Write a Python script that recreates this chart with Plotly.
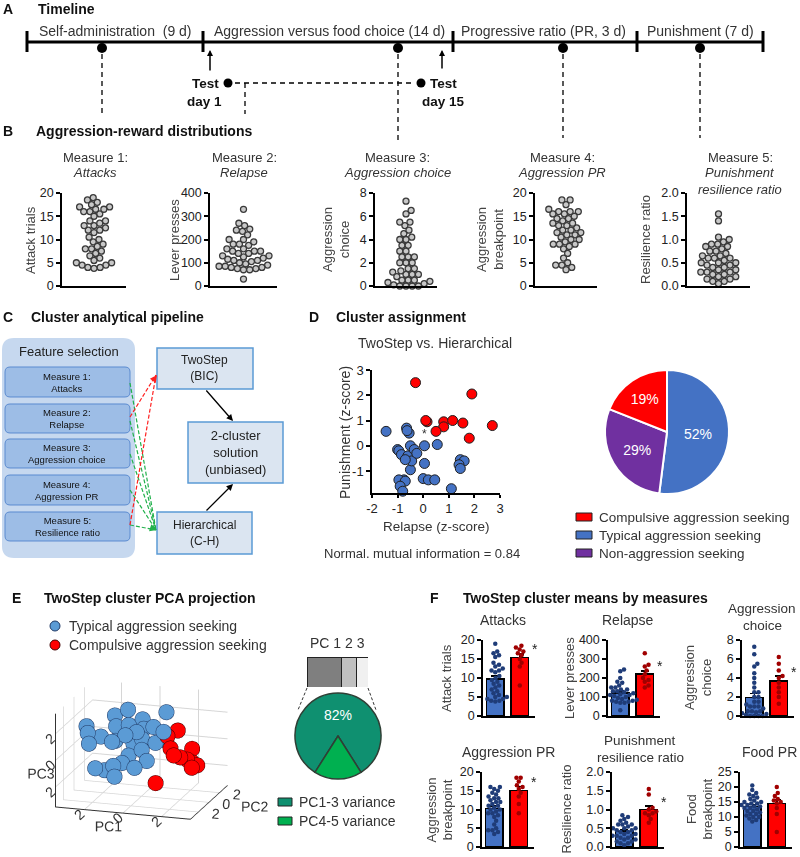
import numpy as np
import plotly.graph_objects as go

W, H = 800, 857
FONT = "Arial, Liberation Sans, sans-serif"
BLUE = "#4472c4"
RED = "#ff0000"
PURPLE = "#7030a0"

# ---------------- data ----------------
# per-animal values, typical (blue) vs compulsive (red) aggression seekers
attacks_typ = [19, 17, 16.5, 16, 15.5, 14, 13, 12.5, 12, 11.5, 10, 9.5, 9, 8.5, 8, 7.5, 7, 6.5, 6, 5.5,
               5, 5, 4.5, 4.5, 4, 4, 13.5, 12, 10.5, 3.8]
attacks_comp = [18.5, 18, 17.5, 17, 16.5, 16, 15, 14, 13, 8]
relapse_typ = [245, 235, 200, 180, 175, 160, 150, 150, 140, 130, 125, 120, 115, 110, 105, 100, 95, 90, 85, 85,
               80, 80, 75, 75, 70, 70, 30, 130, 140, 110]
relapse_comp = [330, 270, 260, 240, 220, 200, 190, 180, 160, 150]
choice_typ = [7.3, 6.5, 5.5, 5.2, 4.5, 4, 3.5, 3, 2.5, 2.5, 2, 2, 1.5, 1.5, 1.2, 1, 1, 0.8, 0.5, 0.5,
              0.3, 0.2, 0.1, 0, 0, 0, 0, 0.5, 1, 0.4]
choice_comp = [6.2, 5.5, 4.8, 4.2, 4, 3.5, 3, 2.5, 2, 1.3]
pr_typ = [16, 16, 15.5, 15, 14.5, 14, 13.5, 13, 12.5, 12, 12, 11.5, 11, 10.5, 10, 10, 9.5, 9, 9, 8.5,
          8, 7, 6, 5, 4.5, 4.5, 4, 3.5, 13, 11]
pr_comp = [18.5, 18.5, 17.5, 16.5, 16, 15.5, 14.5, 13.5, 11.5, 9]
resil_typ = [0.85, 0.8, 0.75, 0.7, 0.65, 0.6, 0.6, 0.55, 0.5, 0.5, 0.45, 0.45, 0.4, 0.4, 0.35, 0.35, 0.3,
             0.3, 0.3, 0.25, 0.25, 0.2, 0.2, 0.15, 0.15, 0.1, 0.1, 0.05, 0.5, 0.6]
resil_comp = [1.55, 1.4, 1.05, 1.0, 0.95, 0.9, 0.9, 0.85, 0.75, 0.65]
food_typ = [20.5, 19, 18, 17.5, 17, 16.5, 16, 15.5, 15, 15, 14.5, 14.5, 14, 14, 13.5, 13.5, 13, 13, 12.5, 12,
            12, 11.5, 11, 11, 10.5, 10, 10, 9.5, 9, 8.5]
food_comp = [20, 18, 17, 16, 15.5, 15, 14.5, 13, 11, 5]

# panel D: z-scores
relapse_z_typ = [-1.45, -0.65, -0.55, -0.63, -1.0, -0.95, -0.5, 0.05, 0.55, 0.05, -0.5, -0.85, -0.6, -0.45,
                 -0.75, -0.95, -0.7, -0.9, -0.8, 0.0, 0.2, 0.45, 1.1, 1.45, 1.6, 1.4, 1.45, -0.35, -0.7, -0.25]
punish_z_typ = [0.57, 0.7, 0.5, 0.6, -0.15, -0.2, 0.0, 0.0, 0.05, -0.7, -0.95, -0.35, -0.4, -0.6,
                -1.35, -1.35, -1.4, -1.6, -1.8, -1.3, -1.35, -1.35, -1.7, -0.55, -0.6, -0.75, -0.9, -0.15, -0.55, -0.3]
relapse_z_comp = [-0.3, 1.9, 0.15, 0.1, 0.8, 0.8, 1.15, 1.55, 2.7, 0.5, 1.8]
punish_z_comp = [2.5, 2.05, 0.95, 1.0, 0.95, 0.75, 1.0, 0.9, 0.8, 0.57, 0.3]

cluster_labels = ["Typical aggression seeking", "Non-aggression seeking", "Compulsive aggression seeking"]
cluster_share = [52, 29, 19]

# panel E: PCA scores
pc1_typ = [-3.0, -2.8, -2.6, -2.2, -1.8, -1.6, -1.5, -1.4, -1.2, -1.0, -0.9, -0.8, -1.2, -1.6, -1.0, -0.5,
           -0.3, -0.2, 0.0, 0.2, 0.4, -0.6, -0.4, 0.5, 0.8, -2.0, -0.1, 0.6, -0.7, 1.0]
pc2_typ = [0.5, 0.0, -0.5, 0.3, 1.5, 1.0, 0.5, -0.5, 1.8, 1.2, 0.2, -0.8, -1.0, -1.2, -1.5, 2.0,
           1.5, 0.8, 0.0, 1.5, -0.5, -0.3, 0.5, 0.8, 1.0, -1.5, -1.0, 2.5, 1.0, 0.5]
pc3_typ = [1.2, 0.9, 0.3, 0.6, 1.8, 1.2, 0.3, 0.6, 2.2, 1.3, 0.9, -0.8, -1.0, -1.3, -1.6, 1.5,
           1.0, 0.5, 0.0, 1.2, -0.6, -0.4, 1.1, 0.3, 0.5, -1.1, -1.0, 2.0, 0.0, 1.3]
pc1_comp = [1.2, 1.5, 1.6, 1.8, 2.0, 2.3, 2.5, 2.6, 2.8, 1.0, 2.4]
pc2_comp = [0.5, 0.0, 1.0, -0.5, 0.0, 0.2, 0.5, 0.0, 0.3, -1.0, 0.8]
pc3_comp = [1.0, 0.3, 1.3, 0.0, -0.3, -0.5, -0.8, -1.0, -0.9, -2.0, 0.1]

pc_bar_labels = ["PC1", "PC2", "PC3"]
pc_bar_var = [47, 20, 15]
var_labels = ["PC1-3 variance", "PC4-5 variance"]
var_share = [82, 18]

# ---------------- helpers ----------------
traces, shapes, annos = [], [], []
layout = dict(width=W, height=H, margin=dict(l=0, r=0, t=0, b=0, pad=0, autoexpand=False),
              paper_bgcolor="white", plot_bgcolor="rgba(0,0,0,0)",
              font=dict(family=FONT, size=13, color="#222"),
              showlegend=False, barmode="stack")
n_ax = [0]


def new_axes(xb, yb, xr, yr, yt=None, ytt=None, xt=None, xtt=None, visible=True, tsize=12.5):
    n_ax[0] += 1
    k = "" if n_ax[0] == 1 else str(n_ax[0])
    common = dict(showgrid=False, zeroline=False, fixedrange=True, showline=True, automargin=False,
                  linecolor="black", linewidth=1.5, visible=visible)
    xa = dict(domain=[xb[0] / W, xb[1] / W], range=xr, anchor="y" + k, **common)
    if xt is None:
        xa.update(showticklabels=False, ticks="")
    else:
        xa.update(tickvals=xt, ticktext=xtt, ticks="outside", ticklen=3, tickwidth=1.5,
                  tickcolor="black", tickfont=dict(size=tsize, color="#222"))
    ya = dict(domain=[1 - yb[1] / H, 1 - yb[0] / H], range=yr, anchor="x" + k, **common)
    if yt is None:
        ya.update(showticklabels=False, ticks="")
    else:
        ya.update(tickvals=yt, ticktext=ytt, ticks="outside", ticklen=4, tickwidth=1.5,
                  tickcolor="black", tickfont=dict(size=tsize, color="#222"))
    layout["xaxis" + k] = xa
    layout["yaxis" + k] = ya
    return "x" + k, "y" + k


def seg(x0, y0, x1, y1, color="black", width=1.0, dash="solid"):
    shapes.append(dict(type="line", xref="paper", yref="paper", x0=x0 / W, y0=1 - y0 / H,
                       x1=x1 / W, y1=1 - y1 / H, line=dict(color=color, width=width, dash=dash)))


def dot(cx, cy, r, fill, line="black", lw=0):
    shapes.append(dict(type="circle", xref="paper", yref="paper", x0=(cx - r) / W, x1=(cx + r) / W,
                       y0=1 - (cy + r) / H, y1=1 - (cy - r) / H, fillcolor=fill,
                       line=dict(color=line, width=lw)))


def box(x0, y0, x1, y1, fill, line="rgba(0,0,0,0)", lw=0, r=0):
    if r == 0:
        shapes.append(dict(type="rect", xref="paper", yref="paper", x0=x0 / W, x1=x1 / W,
                           y0=1 - y1 / H, y1=1 - y0 / H, fillcolor=fill, line=dict(color=line, width=lw)))
        return
    f = lambda x, y: f"{x / W:.5f},{1 - y / H:.5f}"
    p = (f"M{f(x0 + r, y0)} L{f(x1 - r, y0)} Q{f(x1, y0)} {f(x1, y0 + r)} L{f(x1, y1 - r)} "
         f"Q{f(x1, y1)} {f(x1 - r, y1)} L{f(x0 + r, y1)} Q{f(x0, y1)} {f(x0, y1 - r)} "
         f"L{f(x0, y0 + r)} Q{f(x0, y0)} {f(x0 + r, y0)} Z")
    shapes.append(dict(type="path", xref="paper", yref="paper", path=p, fillcolor=fill,
                       line=dict(color=line, width=lw)))


def txt(x, y, s, size=13, color="#333", xanchor="center", angle=0, bold=False, italic=False,
        xref="paper", yref="paper"):
    if bold:
        s = f"<b>{s}</b>"
    if italic:
        s = f"<i>{s}</i>"
    if xref == "paper":
        x = x / W
    if yref == "paper":
        y = 1 - y / H
    annos.append(dict(x=x, y=y, xref=xref, yref=yref, text=s, showarrow=False,
                      font=dict(size=size, color=color), xanchor=xanchor, yanchor="middle",
                      textangle=angle))


def arrow(hx, hy, tx, ty, color="black", width=1.3, head=2, size=1.0):
    annos.append(dict(x=hx / W, y=1 - hy / H, xref="paper", yref="paper", ax=tx - hx, ay=ty - hy,
                      axref="pixel", ayref="pixel", showarrow=True, arrowhead=head, arrowsize=size,
                      arrowwidth=width, arrowcolor=color, text=""))


def swarm(vals, ppu_y, ppu_x, d):
    vals = np.asarray(vals, dtype=float)
    placed, out = [], np.zeros(len(vals))
    for i in np.argsort(vals):
        y = vals[i] * ppu_y
        cands = [0.0]
        for xp, yp in placed:
            dy = abs(y - yp)
            if dy < d:
                dx = np.sqrt(d * d - dy * dy)
                cands += [xp + dx, xp - dx]
        cands.sort(key=abs)
        for c in cands:
            if all((c - xp) ** 2 + (y - yp) ** 2 >= d * d - 1e-6 for xp, yp in placed):
                break
        placed.append((c, y))
        out[i] = c / ppu_x
    return out


def ticks(top, step, fmt="{:g}"):
    v = list(np.arange(0, top + 1e-9, step))
    return v, [fmt.format(t) for t in v]


# ---------------- A: timeline ----------------
txt(1, 9, "A", 14, "#111", "left", bold=True)
txt(36, 9, "Timeline", 14, "#111", "left", bold=True)
seg(27, 42, 763, 42, width=3)
for x in [27, 203, 453, 637, 763]:
    seg(x, 31, x, 52, width=3)
for x, yend in [(102, 117), (398, 140), (563, 138), (700, 138)]:
    dot(x, 48, 5, "black")
    seg(x, 54, x, yend, width=1.3, dash="5px,4px")
for cx, s in [(116, "Self-administration  (9 d)"), (329, "Aggression versus food choice (14 d)"),
              (543, "Progressive ratio (PR, 3 d)"), (700, "Punishment (7 d)")]:
    txt(cx, 31, s, 14)
arrow(210, 50, 210, 72, width=1.5, size=0.8)
arrow(442, 50, 442, 70, width=1.5, size=0.8)
txt(221, 83, "Test", 13.5, "#111", "right", bold=True)
txt(205, 101, "day 1", 13.5, "#111", bold=True)
dot(228, 83, 4.5, "black")
seg(235, 83, 415, 83, width=1.3, dash="5px,4px")
seg(245, 83, 245, 114, width=1.3, dash="5px,4px")
dot(421, 83, 4.5, "black")
txt(428, 83, "Test", 13.5, "#111", "left", bold=True)
txt(443, 101, "day 15", 13.5, "#111", bold=True)

# ---------------- B: distributions ----------------
txt(1, 131, "B", 14, "#111", "left", bold=True)
txt(34, 131, "Aggression-reward distributions", 14, "#111", "left", bold=True)
B_specs = [
    (attacks_typ + attacks_comp, (62, 126), 20, 5, "{:g}", "Attack trials", 31, (95, "Measure 1:", ["Attacks"])),
    (relapse_typ + relapse_comp, (210, 277), 400, 100, "{:g}", "Lever presses", 175, (244, "Measure 2:", ["Relapse"])),
    (choice_typ + choice_comp, (375, 437), 8, 2, "{:g}", "Aggression<br>choice", 336, (397, "Measure 3:", ["Aggression choice"])),
    (pr_typ + pr_comp, (535, 597), 20, 5, "{:g}", "Aggression<br>breakpoint", 490, (562, "Measure 4:", ["Aggression PR"])),
    (resil_typ + resil_comp, (687, 750), 2, 0.5, "{:.1f}", "Resilience ratio", 646, (740, "Measure 5:", ["Punishment", "resilience ratio"])),
]
yb = (193, 286)
for vals, xb, top, step, fmt, ylab, ylx, (tcx, t1, t2) in B_specs:
    tv, tt = ticks(top, step, fmt)
    xa, ya = new_axes(xb, yb, [-1, 1], [0, top], tv, tt)
    off = swarm(vals, (yb[1] - yb[0]) / top, (xb[1] - xb[0]) / 2, 6.2)
    traces.append(go.Scatter(x=off, y=vals, mode="markers", xaxis=xa, yaxis=ya, cliponaxis=False,
                             marker=dict(size=6, color="#c8c8c8", line=dict(color="#3a3a3a", width=1.3)),
                             hoverinfo="skip"))
    txt(ylx, 240, ylab, 13, "#444", angle=-90)
    txt(tcx, 157, t1, 13, "#333")
    for j, s in enumerate(t2):
        txt(tcx, 173 + 16.5 * j, s, 13, "#333", italic=True)

# ---------------- C: pipeline ----------------
txt(1, 317, "C", 14, "#111", "left", bold=True)
txt(29, 317, "Cluster analytical pipeline", 14, "#111", "left", bold=True)
box(2, 338, 135, 558, "#c6d8ef", r=12)
txt(69, 351, "Feature selection", 13, "#222")
feat = ["Measure 1:<br>Attacks", "Measure 2:<br>Relapse", "Measure 3:<br>Aggression choice",
        "Measure 4:<br>Aggression PR", "Measure 5:<br>Resilience ratio"]
for (y0, y1), s in zip([(367, 397), (404, 433), (439, 468), (475, 505), (512, 541)], feat):
    box(5, y0, 130, y1, "#9dbde6", "#5b8bd0", 1, r=5)
    txt(67, (y0 + y1) / 2, s, 9.5, "#111")
for sy in [383, 421, 454, 490, 525]:
    seg(130, sy, 156, 530, "#22b14c", 1.2, "4px,2px")
for sy in [417, 525]:
    seg(130, sy, 156, 375, "#ff2020", 1.2, "4px,2px")
arrow(157, 375, 152, 382, "#ff2020", 1.2, 2, 1.2)
arrow(157, 530, 151, 528, "#22b14c", 1.2, 2, 1.2)
box(157, 348, 253, 389, "#dbe5f1", "#5b9bd5", 1.5)
txt(205, 368, "TwoStep<br>(BIC)", 12, "#222")
box(188, 422, 283, 483, "#dbe5f1", "#5b9bd5", 1.5)
txt(235, 452, "2-cluster<br>solution<br>(unbiased)", 13, "#222")
box(157, 512, 252, 554, "#dbe5f1", "#5b9bd5", 1.5)
txt(205, 533, "Hierarchical<br>(C-H)", 12, "#222")
arrow(233, 421, 205, 389, width=1.3)
arrow(233, 484, 205, 512, width=1.3)

# ---------------- D: cluster assignment ----------------
txt(307, 317, "D", 14, "#111", "left", bold=True)
txt(334, 317, "Cluster assignment", 14, "#111", "left", bold=True)
txt(435, 343, "TwoStep vs. Hierarchical", 14, "#333")
xa, ya = new_axes((372, 500), (370, 493), [-2, 3], [-1.87, 3], [-1, 0, 1, 2, 3], ["-1", "0", "1", "2", "3"],
                  [-2, -1, 0, 1, 2, 3], ["-2", "-1", "0", "1", "2", "3"], tsize=13)
for xs, ys, c in [(relapse_z_typ, punish_z_typ, BLUE), (relapse_z_comp, punish_z_comp, RED)]:
    traces.append(go.Scatter(x=xs, y=ys, mode="markers", xaxis=xa, yaxis=ya, cliponaxis=False,
                             marker=dict(size=10, color=c, line=dict(color="#202020", width=1)),
                             hoverinfo="skip"))
txt(0.05, 0.45, "*", 12, "#333", xref=xa, yref=ya)
txt(436, 526, "Relapse (z-score)", 13.5, "#333")
txt(345, 433, "Punishment (z-score)", 14, "#333", angle=-90)
txt(422, 553, "Normal. mutual information = 0.84", 13, "#333")
traces.append(go.Pie(values=cluster_share, labels=cluster_labels, sort=False, direction="clockwise",
                     rotation=0, marker=dict(colors=[BLUE, PURPLE, RED], line=dict(color="white", width=2)),
                     textinfo="percent", textfont=dict(color="white", size=14), hoverinfo="skip",
                     domain=dict(x=[605 / W, 729 / W], y=[1 - 494 / H, 1 - 370 / H])))
for i, (lab, c) in enumerate([(cluster_labels[2], RED), (cluster_labels[0], BLUE), (cluster_labels[1], PURPLE)]):
    cy = 517 + 18 * i
    box(576, cy - 4, 592, cy + 4, c, "#222", 1)
    txt(597, cy, lab, 13.5, "#333", "left")

# ---------------- E: PCA ----------------
txt(10, 598, "E", 14, "#111", "left", bold=True)
txt(42, 598, "TwoStep cluster PCA projection", 14, "#111", "left", bold=True)
dot(55, 626, 5, "#5b9bd5", "#1f3864", 1)
dot(55, 645, 5, RED, "#400000", 1)
txt(67, 626, "Typical aggression seeking", 14, "#333", "left")
txt(67, 645, "Compulsive aggression seeking", 14, "#333", "left")


def ax3(title):
    return dict(title=dict(text=title, font=dict(size=14, color="#333")), range=[-3.5, 3.5],
                tickvals=[-2, 0, 2], ticktext=["2", "0", "2"], tickfont=dict(size=13, color="#333"),
                showbackground=False, gridcolor="#d6d6d6", showline=True, linecolor="#333",
                linewidth=2, zeroline=False, showspikes=False)


layout["scene"] = dict(domain=dict(x=[8 / W, 275 / W], y=[1 - 857 / H, 1 - 652 / H]),
                       xaxis=ax3("PC1"), yaxis=ax3("PC2"), zaxis=ax3("PC3"), bgcolor="white",
                       aspectmode="manual", aspectratio=dict(x=1.38, y=1.2, z=0.95),
                       camera=dict(eye=dict(x=0.6, y=-1.9, z=0.55), center=dict(x=0, y=0, z=-0.05),
                                   projection=dict(type="orthographic")))
for a, b, c, col, lc in [(pc1_typ, pc2_typ, pc3_typ, "#5b9bd5", "#1f3864"),
                         (pc1_comp, pc2_comp, pc3_comp, RED, "#400000")]:
    traces.append(go.Scatter3d(x=a, y=b, z=c, mode="markers", scene="scene", hoverinfo="skip",
                               marker=dict(size=9, color=col, opacity=1, line=dict(color=lc, width=1))))

xa, ya = new_axes((307, 368), (657, 687), [0, sum(pc_bar_var)], [-0.5, 0.5], visible=False)
for v, lab, c in zip(pc_bar_var, pc_bar_labels, ["#7f7f7f", "#c0c0c0", "#f0f0f0"]):
    traces.append(go.Bar(x=[v], y=[0], orientation="h", width=1, xaxis=xa, yaxis=ya, name=lab,
                         marker=dict(color=c, line=dict(color="#222", width=1)), hoverinfo="skip"))
txt(337, 643, "PC 1 2 3", 14, "#333")
seg(307, 688, 298, 710, "#333", 1, "3px,2px")
seg(368, 688, 376, 710, "#333", 1, "3px,2px")
traces.append(go.Pie(values=var_share, labels=var_labels, sort=False, direction="clockwise",
                     rotation=-147.6, marker=dict(colors=["#0f9070", "#00b050"], line=dict(color="#2f3f35", width=1.5)),
                     textinfo="percent", textfont=dict(color="white", size=14), hoverinfo="skip",
                     domain=dict(x=[295 / W, 381 / W], y=[1 - 779 / H, 1 - 693 / H])))
for i, (lab, c) in enumerate(zip(var_labels, ["#0f9070", "#00b050"])):
    cy = 802 + 19 * i
    box(278, cy - 4, 292, cy + 4, c, "#222", 1)
    txt(297, cy, lab, 14, "#333", "left")

# ---------------- F: cluster means ----------------
txt(428, 598, "F", 14, "#111", "left", bold=True)
txt(461, 598, "TwoStep cluster means by measures", 14, "#111", "left", bold=True)
F_specs = [
    (attacks_typ, attacks_comp, (483, 535), (640, 716), 20, 5, "{:g}", ["Attacks"], 503, "Attack trials", 446, True),
    (relapse_typ, relapse_comp, (608, 660), (640, 716), 400, 100, "{:g}", ["Relapse"], 628, "Lever presses", 569, True),
    (choice_typ, choice_comp, (742, 794), (640, 716), 8, 2, "{:g}", ["Aggression", "choice"], 762, "Aggression<br>choice", 698, True),
    (pr_typ, pr_comp, (482, 534), (772, 847), 20, 5, "{:g}", ["Aggression PR"], 508, "Aggression<br>breakpoint", 439, True),
    (resil_typ, resil_comp, (612, 664), (772, 847), 2, 0.5, "{:.1f}", ["Punishment", "resilience ratio"], 640, "Resilience ratio", 566, True),
    (food_typ, food_comp, (740, 792), (772, 847), 25, 5, "{:g}", ["Food PR"], 769, "Food<br>breakpoint", 699, False),
]
for typ, comp, xb, yb, top, step, fmt, title, tcx, ylab, ylx, star in F_specs:
    tv, tt = ticks(top, step, fmt)
    xa, ya = new_axes(xb, yb, [-0.5, 1.62], [0, top], tv, tt)
    means = [np.mean(typ), np.mean(comp)]
    sems = [np.std(typ, ddof=1) / np.sqrt(len(typ)), np.std(comp, ddof=1) / np.sqrt(len(comp))]
    traces.append(go.Bar(x=[0, 1], y=means, width=0.7, xaxis=xa, yaxis=ya, hoverinfo="skip",
                         marker=dict(color=[BLUE, RED], line=dict(color="black", width=1.5)),
                         error_y=dict(type="data", array=sems, arrayminus=[0, 0], symmetric=False,
                                      color="black", thickness=1.5, width=4)))
    ppu_y = (yb[1] - yb[0]) / top
    ppu_x = (xb[1] - xb[0]) / 2.12
    for k, (vals, c) in enumerate([(typ, "#1f3c78"), (comp, "#a00000")]):
        off = swarm(vals, ppu_y, ppu_x, 4.2)
        traces.append(go.Scatter(x=k + off, y=vals, mode="markers", xaxis=xa, yaxis=ya, cliponaxis=False,
                                 marker=dict(size=4.5, color=c), hoverinfo="skip"))
    if star:
        txt(1.42, means[1] + sems[1] + 0.06 * top, "*", 14, "#222", "left", xref=xa, yref=ya)
    ty = yb[0] - 20 if len(title) == 1 else yb[0] - 32
    for j, s in enumerate(title):
        txt(tcx, ty + 17 * j, s, 14 if len(title) == 1 else 13.5, "#333")
    txt(ylx, (yb[0] + yb[1]) / 2, ylab, 13, "#444", angle=-90)

layout["shapes"] = shapes
layout["annotations"] = annos
fig = go.Figure(data=traces, layout=layout)
fig.write_html("out.html", config={"displayModeBar": False},
               post_script="document.body.style.margin='0px';")
